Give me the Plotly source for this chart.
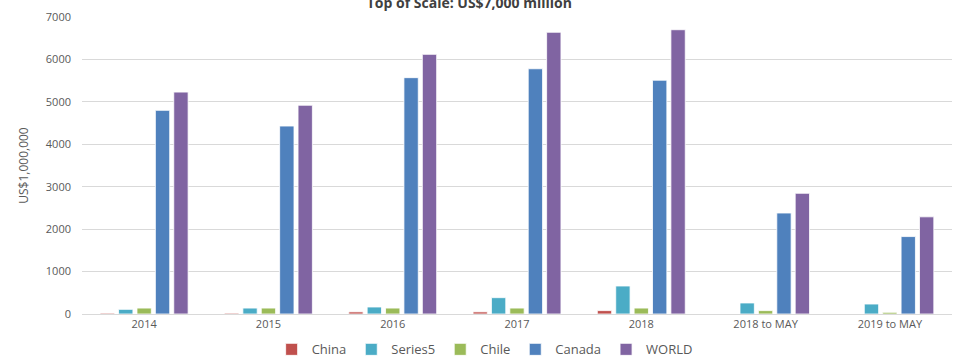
import plotly.graph_objects as go

categories = ["2014", "2015", "2016", "2017", "2018", "2018 to MAY", "2019 to MAY"]
china = [20, 20, 50, 50, 80, 0, 0]
series5 = [110, 140, 165, 385, 660, 260, 235]
chile = [140, 140, 140, 140, 140, 80, 40]
canada = [4800, 4430, 5570, 5780, 5510, 2380, 1825]
world = [5230, 4920, 6120, 6640, 6700, 2845, 2290]

series = [
    ("China", china, "#C0504D"),
    ("Series5", series5, "#4BACC6"),
    ("Chile", chile, "#9BBB59"),
    ("Canada", canada, "#4F81BD"),
    ("WORLD", world, "#8064A2"),
]

fig = go.Figure()
for name, vals, color in series:
    fig.add_trace(go.Bar(
        name=name, x=categories, y=vals,
        marker=dict(color=color, line=dict(color="rgba(255,255,255,0.8)", width=1)),
    ))

fig.update_layout(
    width=954, height=358,
    margin=dict(l=82, r=2, t=17, b=44, autoexpand=False),
    paper_bgcolor="white", plot_bgcolor="white",
    barmode="group", bargap=0.26, bargroupgap=0.22,
    font=dict(family="Open Sans", color="#595959", size=11),
    title=dict(text="<b>Top of Scale: US$7,000 million</b>", x=0.492, xanchor="center",
               y=0.99, yanchor="middle", yref="container",
               font=dict(size=14, color="#404040", family="Open Sans")),
    legend=dict(orientation="h", x=0.508, xref="container", xanchor="center",
                y=0.024, yref="container", yanchor="middle",
                font=dict(size=13, color="#595959"),
                itemwidth=30, tracegroupgap=0, traceorder="normal"),
    yaxis=dict(range=[0, 7000], dtick=1000, showgrid=True, gridcolor="#D9D9D9",
               gridwidth=1, zeroline=True, zerolinecolor="#D9D9D9", zerolinewidth=1,
               tickfont=dict(size=11, color="#595959"), ticks="", ticklabelstandoff=10,
               title=dict(text="US$1,000,000", font=dict(size=12, color="#595959"), standoff=14)),
    xaxis=dict(showgrid=False, ticks="", tickfont=dict(size=11, color="#595959"),
               showline=True, linecolor="#D9D9D9", tickangle=0, automargin=False),
)

fig.write_html("out.html")
